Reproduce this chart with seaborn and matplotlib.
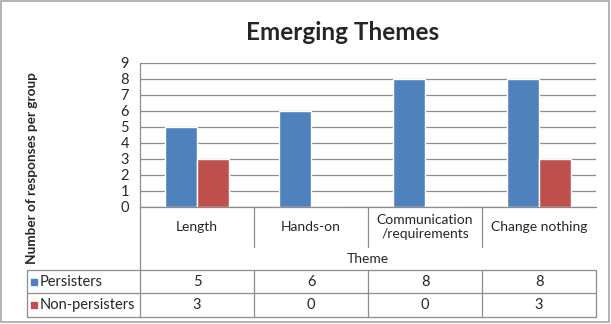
import matplotlib.pyplot as plt
from matplotlib.patches import Rectangle
import seaborn as sns
import pandas as pd

themes = ['Length', 'Hands-on', 'Communication\n/requirements', 'Change nothing']
persisters = [5, 6, 8, 8]
non_persisters = [3, 0, 0, 3]
groups = ['Persisters', 'Non-persisters']
colors = ['#4F81BD', '#C0504D']

df = pd.DataFrame({
    'Theme': themes * 2,
    'Count': persisters + non_persisters,
    'Group': [groups[0]] * len(themes) + [groups[1]] * len(themes),
})

sns.set_style('white')
plt.rcParams['font.family'] = ['Lato', 'DejaVu Sans']

W, H = 611, 324
grey = '#8C8C8C'
fig = plt.figure(figsize=(W / 100, H / 100), dpi=100)

# plot area, in pixel terms: x 140..596, y 63..207
ax = fig.add_axes([140 / W, 1 - 207 / H, 456 / W, 144 / H])
sns.barplot(data=df, x='Theme', y='Count', hue='Group', palette=colors,
            width=0.57, saturation=1, legend=False, ax=ax)
ax.set_xlim(-0.5, len(themes) - 0.5)
ax.set_ylim(0, 9)
ax.set_yticks(range(10))
ax.yaxis.grid(True, color=grey, lw=0.9)
ax.set_axisbelow(True)
ax.set_xticks([])
ax.set_xlabel('')
ax.set_ylabel('')
ax.tick_params(axis='y', length=0, pad=8, labelsize=10.5)
for s in ['top', 'right']:
    ax.spines[s].set_visible(False)
for s in ['left', 'bottom']:
    ax.spines[s].set_color(grey)
    ax.spines[s].set_linewidth(0.9)

fig.text(343 / W, 1 - 32 / H, 'Emerging Themes', fontsize=17.5,
         weight='bold', ha='center', va='center')
fig.text(32 / W, 1 - 168 / H, 'Number of responses per group', fontsize=9.8,
         weight='bold', rotation=90, ha='center', va='center')

# data table drawn underneath, pixel coordinates
tb = fig.add_axes([0, 0, 1, 1])
tb.set_xlim(0, W)
tb.set_ylim(H, 0)
tb.axis('off')
tb.patch.set_alpha(0)

edges = [ax.transData.transform((i - 0.5, 0))[0] for i in range(len(themes) + 1)]
lk = dict(color=grey, lw=0.9)
for e in edges[1:-1]:
    tb.plot([e, e], [207, 247], **lk)
tb.plot([edges[0], edges[0]], [207, 317], **lk)
for e in edges[1:]:
    tb.plot([e, e], [270, 317], **lk)
tb.plot([27, 27], [270, 317], **lk)
for y in [270, 293, 317]:
    tb.plot([27, edges[-1]], [y, y], **lk)

for i, t in enumerate(themes):
    cx = (edges[i] + edges[i + 1]) / 2
    tb.text(cx, 227, t, ha='center', va='center', fontsize=10, linespacing=1.25)
tb.text((edges[0] + edges[-1]) / 2, 259, 'Theme', ha='center', va='center', fontsize=10)

for r, (g, vals, c) in enumerate(zip(groups, [persisters, non_persisters], colors)):
    y = 281.5 + r * 23.5
    tb.plot([34], [y], marker='s', ms=5, color=c, ls='none')
    tb.text(40, y, g, ha='left', va='center', fontsize=10.5)
    for i, v in enumerate(vals):
        tb.text((edges[i] + edges[i + 1]) / 2, y, str(v), ha='center', va='center', fontsize=10.5)

tb.add_patch(Rectangle((1, 1), W - 3, H - 3, fill=False, ec='#A6A6A6', lw=1.2))

fig.savefig('out.png', dpi=100)
